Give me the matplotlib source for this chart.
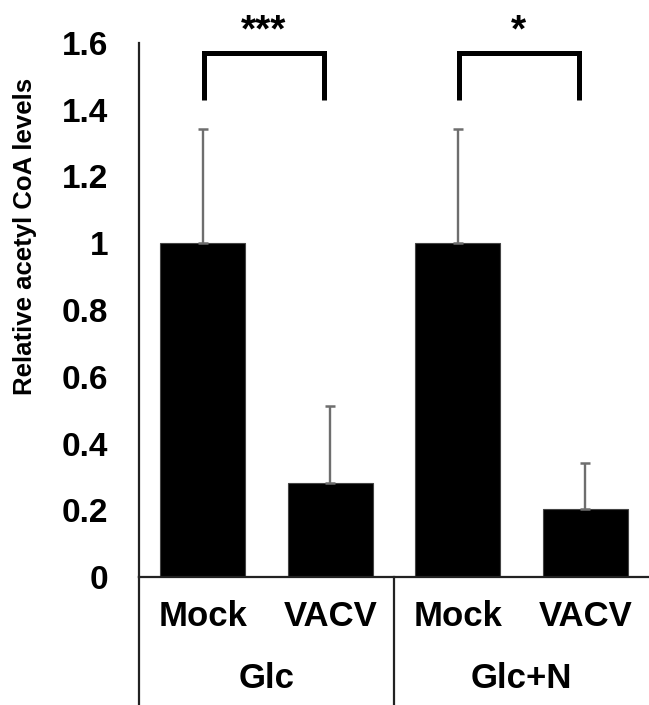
import matplotlib
matplotlib.use("Agg")
import matplotlib.pyplot as plt
import matplotlib.transforms as mtransforms
from matplotlib.lines import Line2D
from matplotlib import font_manager

plt.rcParams['font.family'] = ['Liberation Sans', 'DejaVu Sans']
plt.rcParams['font.weight'] = 'bold'

# values
conditions = ['Mock', 'VACV', 'Mock', 'VACV']
groups = ['Glc', 'Glc+N']
levels = [1.0, 0.281, 1.0, 0.204]
sd = [0.341, 0.231, 0.341, 0.137]
yticks = [0, 0.2, 0.4, 0.6, 0.8, 1.0, 1.2, 1.4, 1.6]
# significance brackets: (bar a, bar b, stars)
sig = [(0, 1, '***'), (2, 3, '*')]

W, H = 649, 705
fig = plt.figure(figsize=(W / 100, H / 100), dpi=100)
ax = fig.add_axes([139 / W, 128 / H, 510 / W, 534 / H])

x = list(range(len(levels)))
ax.bar(x, levels, width=0.67, color='black', edgecolor='#444444', linewidth=0.8, zorder=2)
ax.errorbar(x, levels, yerr=[[0] * len(sd), sd], fmt='none', ecolor='#6e6e6e',
            elinewidth=1.7, capsize=3.8, capthick=1.8, zorder=3)

ax.set_xlim(-0.5, 3.5)
ax.set_ylim(0, 1.6)
ax.set_yticks(yticks)
ax.set_yticklabels(['%g' % v for v in yticks])
ax.tick_params(axis='y', length=0, pad=22, labelsize=24)
ax.set_xticks([])

for s in ['top', 'right']:
    ax.spines[s].set_visible(False)
ax.spines['left'].set_color('#222222')
ax.spines['left'].set_linewidth(1.6)
ax.spines['bottom'].set_color('#222222')
ax.spines['bottom'].set_linewidth(1.6)

# category axis below the plot
trans = mtransforms.blended_transform_factory(ax.transData, fig.transFigure)
for xi, name in zip(x, conditions):
    ax.text(xi, 1 - 617 / H, name, transform=trans, ha='center', va='center',
            fontsize=25, fontweight='bold')
for gi, name in enumerate(groups):
    ax.text(2 * gi + 0.5, 1 - 678 / H, name, transform=trans, ha='center', va='center',
            fontsize=25, fontweight='bold')
for xs in [-0.5, 1.5]:
    fig.add_artist(Line2D([xs, xs], [0, 128 / H], transform=trans, color='#222222', lw=1.6))

# brackets and stars
for a, b, stars in sig:
    xa, xb = a + 0.01, b - 0.05
    ax.plot([xa, xa, xb, xb], [1.428, 1.569, 1.569, 1.428], color='black', lw=3.6,
            solid_joinstyle='miter', solid_capstyle='butt', clip_on=False, zorder=4)
    ax.text((xa + xb) / 2, 1.605, stars, ha='center', va='baseline', fontsize=28,
            fontweight='bold', clip_on=False)

# narrow face for the axis title if available
names = {f.name for f in font_manager.fontManager.ttflist}
if 'Liberation Sans Narrow' in names:
    ylab_family, ylab_size = ['Liberation Sans Narrow', 'DejaVu Sans'], 21
else:
    ylab_family, ylab_size = ['Liberation Sans', 'DejaVu Sans'], 18.5
fig.text(25 / W, 1 - 236 / H, 'Relative acetyl CoA levels', rotation=90,
         ha='center', va='center', fontsize=ylab_size, fontweight='bold',
         family=ylab_family)

fig.savefig('out.png', dpi=100)
